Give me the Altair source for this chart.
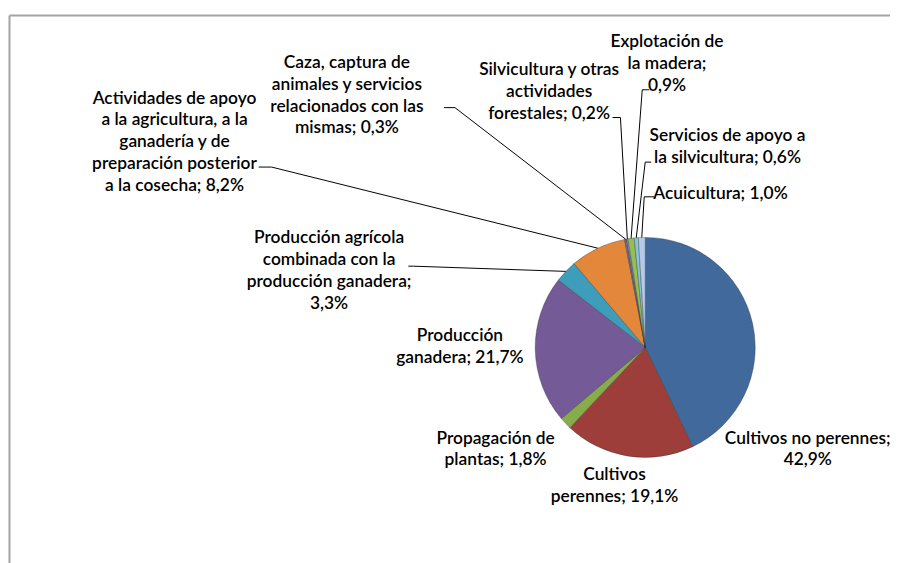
import altair as alt
import pandas as pd

# ---------------- data ----------------
categories = [
    "Cultivos no perennes",
    "Cultivos perennes",
    "Propagación de plantas",
    "Producción ganadera",
    "Producción agrícola combinada con la producción ganadera",
    "Actividades de apoyo a la agricultura, a la ganadería y de preparación posterior a la cosecha",
    "Caza, captura de animales y servicios relacionados con las mismas",
    "Silvicultura y otras actividades forestales",
    "Explotación de la madera",
    "Servicios de apoyo a la silvicultura",
    "Acuicultura",
]
values = [42.9, 19.1, 1.8, 21.7, 3.3, 8.2, 0.3, 0.2, 0.9, 0.6, 1.0]
colors = ["#41699B", "#9E3E3A", "#87AD4B", "#745A96", "#3D9DBB", "#E3873A",
          "#5F6E94", "#A393BE", "#95BE55", "#86C5DA", "#B6C9E8"]

label_lines = [
    ["Cultivos no perennes;", "42,9%"],
    ["Cultivos", "perennes; 19,1%"],
    ["Propagación de", "plantas; 1,8%"],
    ["Producción", "ganadera; 21,7%"],
    ["Producción agrícola", "combinada con la", "producción ganadera;", "3,3%"],
    ["Actividades de apoyo", "a la agricultura, a la", "ganadería y de",
     "preparación posterior", "a la cosecha; 8,2%"],
    ["Caza, captura de", "animales y servicios", "relacionados con las", "mismas; 0,3%"],
    ["Silvicultura y otras", "actividades", "forestales; 0,2%"],
    ["Explotación de", "la madera;", "0,9%"],
    ["Servicios de apoyo a", "la silvicultura; 0,6%"],
    ["Acuicultura; 1,0%"],
]

# ---------------- layout (page pixel coordinates) ----------------
M = 8                      # page margin
CX, CY, R = 651 - M, 348 - M, 111
LH = 22
label_x = [815, 620, 500, 464, 332, 176, 350, 554, 673, 734, 727]
label_y = [440, 477, 440, 337, 238, 97, 61, 68, 40, 135, 193]
# leader line start / elbow (None = no leader)
lead_sx = [None, None, None, None, 412, 261, 448, 618, 655, 657, 660]
lead_sy = [None, None, None, None, 266, 166, 106, 116, 88, 161, 196]
lead_kx = [None, None, None, None, 417, 274, 459, 626, 648, 651, 650]
lead_ky = [None, None, None, None, 266, 166, 106, 116, 88, 161, 196]

# ---------------- tables ----------------
pie_df = pd.DataFrame({
    "cat": categories,
    "value": values,
    "idx": list(range(len(categories))),
    "sx": [None if v is None else v - M for v in lead_sx],
    "sy": [None if v is None else v - M for v in lead_sy],
    "kx": [None if v is None else v - M for v in lead_kx],
    "ky": [None if v is None else v - M for v in lead_ky],
})

rows = []
for i, lines in enumerate(label_lines):
    for j, t in enumerate(lines):
        rows.append({"text": t, "x": label_x[i] - M, "y": label_y[i] - M + j * LH})
text_df = pd.DataFrame(rows)

# ---------------- chart ----------------
pie = alt.Chart(pie_df).mark_arc(
    radius=R, stroke="#2b2b2b", strokeWidth=0.5, strokeOpacity=0.7
).encode(
    theta=alt.Theta("value:Q", stack=True),
    color=alt.Color("cat:N", scale=alt.Scale(domain=categories, range=colors), legend=None),
    order=alt.Order("idx:Q"),
    x=alt.value(CX),
    y=alt.value(CY),
)

lead_base = alt.Chart(pie_df).transform_window(
    cum="sum(value)", sort=[alt.SortField("idx")]
).transform_joinaggregate(
    total="sum(value)"
).transform_calculate(
    mid="(datum.cum - datum.value / 2) / datum.total * 2 * PI",
    ex=f"{CX} + {R} * sin(datum.mid)",
    ey=f"{CY} - {R} * cos(datum.mid)",
).transform_filter("isValid(datum.sx) && datum.sx !== null")

lead_a = lead_base.mark_rule(color="#000000", strokeWidth=1).encode(
    x=alt.X("sx:Q", scale=None, axis=None),
    y=alt.Y("sy:Q", scale=None, axis=None),
    x2="kx:Q",
    y2="ky:Q",
)
lead_b = lead_base.mark_rule(color="#000000", strokeWidth=1).encode(
    x=alt.X("kx:Q", scale=None, axis=None),
    y=alt.Y("ky:Q", scale=None, axis=None),
    x2="ex:Q",
    y2="ey:Q",
)

labels = alt.Chart(text_df).mark_text(
    font="Lato", fontSize=17.5, fontWeight=600, color="#000000",
    align="center", baseline="middle"
).encode(
    x=alt.X("x:Q", scale=None, axis=None),
    y=alt.Y("y:Q", scale=None, axis=None),
    text="text:N",
)

frame_df = pd.DataFrame({"k": [0]})
frame_v = alt.Chart(frame_df).mark_rule(color="#a3a3a3", strokeWidth=2).encode(
    x=alt.value(1.5), y=alt.value(5), y2=alt.value(700)
)
frame_h = alt.Chart(frame_df).mark_rule(color="#a3a3a3", strokeWidth=2).encode(
    y=alt.value(5), x=alt.value(1.5), x2=alt.value(1000)
)

chart = alt.layer(frame_v, frame_h, pie, lead_a, lead_b, labels).properties(
    width=890, height=555, autosize=alt.AutoSizeParams(type="none"), padding=0,
    background="#ffffff"
).configure_view(stroke=None)

chart.save("out.html", embed_options={"renderer": "svg", "actions": False})
